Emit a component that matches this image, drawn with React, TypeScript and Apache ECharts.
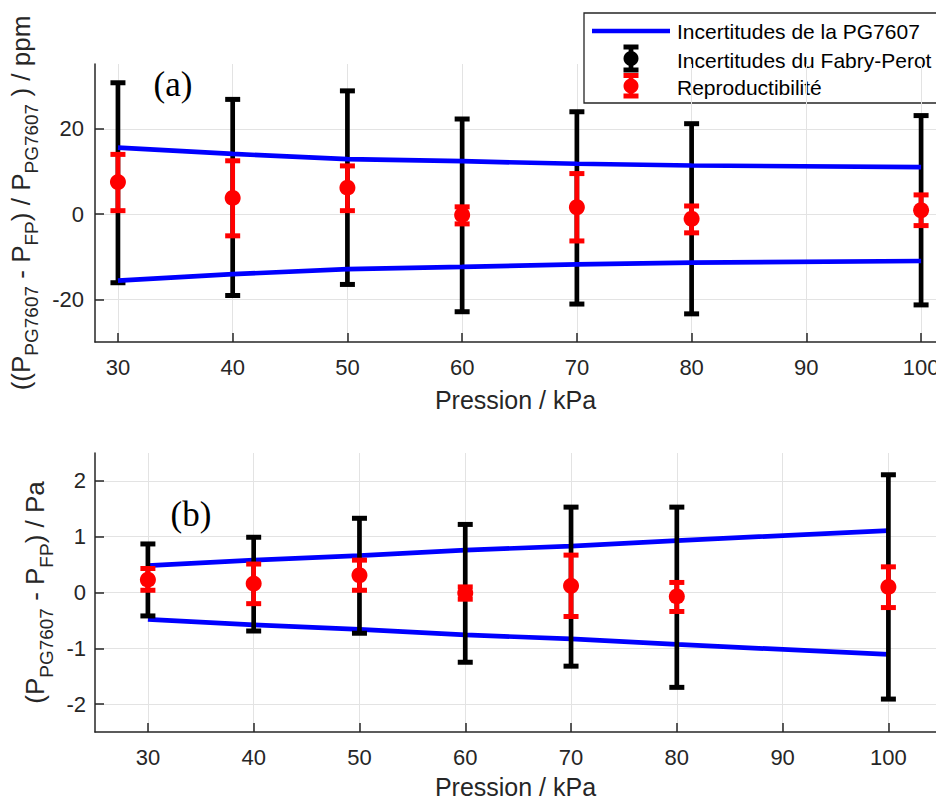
import React, { useEffect, useRef } from 'react';
import * as echarts from 'echarts';

// ---------- data ----------
const pressures = [30, 40, 50, 60, 70, 80, 100];
const xTicks = [30, 40, 50, 60, 70, 80, 90, 100];
const yTicksA = [-20, 0, 20];
const yTicksB = [-2, -1, 0, 1, 2];

// panel (a) : ppm
const pgUncPpm = [15.6, 14.1, 12.9, 12.4, 11.8, 11.4, 11.0];
const fpLowPpm = [-16.1, -19.1, -16.5, -22.9, -21.1, -23.4, -21.3];
const fpHighPpm = [30.8, 26.9, 28.9, 22.3, 24.0, 21.2, 23.1];
const meanPpm = [7.5, 3.8, 6.2, -0.2, 1.6, -1.1, 0.9];
const reproLowPpm = [0.8, -5.1, 0.8, -2.3, -6.3, -4.4, -2.7];
const reproHighPpm = [14.0, 12.5, 11.3, 1.7, 9.5, 1.9, 4.5];

// panel (b) : Pa
const pgUncPa = [0.48, 0.58, 0.66, 0.76, 0.83, 0.93, 1.11];
const fpLowPa = [-0.42, -0.69, -0.73, -1.25, -1.32, -1.70, -1.91];
const fpHighPa = [0.87, 0.99, 1.33, 1.22, 1.53, 1.53, 2.11];
const meanPa = [0.23, 0.16, 0.31, -0.01, 0.12, -0.07, 0.10];
const reproLowPa = [0.04, -0.20, 0.04, -0.12, -0.43, -0.34, -0.27];
const reproHighPa = [0.43, 0.51, 0.58, 0.10, 0.67, 0.18, 0.46];

const legendLabels = [
  'Incertitudes de la PG7607',
  'Incertitudes du Fabry-Perot',
  'Reproductibilité',
];

const FONT = 'Liberation Sans, Arial, sans-serif';
const AX = '#262626';
const BLUE = '#0000ff';
const RED = '#ff0000';
const BLACK = '#000000';

const errorBar = (color: string) => (params: any, api: any) => {
  const x = api.value(0);
  const lo = api.value(1);
  const hi = api.value(2);
  const a = api.coord([x, lo]);
  const b = api.coord([x, hi]);
  const cw = 15;
  return {
    type: 'group',
    children: [
      { type: 'line', shape: { x1: a[0], y1: a[1], x2: b[0], y2: b[1] }, style: { stroke: color, lineWidth: 4.7 } },
      { type: 'line', shape: { x1: a[0] - cw / 2, y1: a[1], x2: a[0] + cw / 2, y2: a[1] }, style: { stroke: color, lineWidth: 5 } },
      { type: 'line', shape: { x1: b[0] - cw / 2, y1: b[1], x2: b[0] + cw / 2, y2: b[1] }, style: { stroke: color, lineWidth: 5 } },
    ],
  };
};

const zip3 = (xs: number[], a: number[], b: number[]) => xs.map((x, i) => [x, a[i], b[i]]);
const zip2 = (xs: number[], a: number[]) => xs.map((x, i) => [x, a[i]]);

const richName = {
  n: { fontSize: 26, lineHeight: 30, fontFamily: FONT, color: AX },
  s: { fontSize: 19, lineHeight: 8, padding: [22, 0, 0, 0], fontFamily: FONT, color: AX },
};

const xAxisBase = (gridIndex: number, min: number, max: number, gap: number) => ({
  type: 'value',
  gridIndex,
  min,
  max,
  name: 'Pression / kPa',
  nameLocation: 'middle',
  nameGap: gap,
  nameTextStyle: { fontSize: 25, color: AX, fontFamily: FONT },
  axisLine: { show: true, onZero: false, lineStyle: { color: AX, width: 1.5 } },
  axisTick: { show: true, inside: true, length: 9, customValues: xTicks, lineStyle: { color: AX, width: 1.5 } },
  axisLabel: { customValues: xTicks, fontSize: 22, color: AX, fontFamily: FONT, margin: 14 },
  splitLine: { show: true, lineStyle: { color: '#e3e3e3', width: 1 } },
});

const yAxisBase = (gridIndex: number, min: number, max: number, ticks: number[], name: string, gap: number, margin: number) => ({
  type: 'value',
  gridIndex,
  min,
  max,
  name,
  nameLocation: 'middle',
  nameRotate: 90,
  nameGap: gap,
  nameTextStyle: { fontSize: 26, color: AX, fontFamily: FONT, rich: richName },
  axisLine: { show: true, onZero: false, lineStyle: { color: AX, width: 1.5 } },
  axisTick: { show: true, inside: true, length: 9, customValues: ticks, lineStyle: { color: AX, width: 1.5 } },
  axisLabel: { customValues: ticks, fontSize: 22, color: AX, fontFamily: FONT, margin },
  splitLine: { show: true, lineStyle: { color: '#e3e3e3', width: 1 } },
});

export default function App() {
  const ref = useRef<HTMLDivElement>(null);
  useEffect(() => {
    if (!ref.current) return;
    const chart = echarts.init(ref.current, undefined, { renderer: 'svg' });
    const legendX = 584;
    const option: any = {
      animation: false,
      backgroundColor: '#ffffff',
      grid: [
        { left: 95, top: 64, width: 841, height: 278, containLabel: false, outerBoundsMode: 'none' },
        { left: 95, top: 453, width: 841, height: 279, containLabel: false, outerBoundsMode: 'none' },
      ],
      xAxis: [xAxisBase(0, 28, 101.3, 45), xAxisBase(1, 25, 104.5, 42)],
      yAxis: [
        yAxisBase(0, -30, 35.2, yTicksA,
          '{n|((P}{s|PG7607}{n| - P}{s|FP}{n|) / P}{s|PG7607}{n| ) / ppm}', 55, 11),
        yAxisBase(1, -2.5, 2.5, yTicksB,
          '{n|(P}{s|PG7607}{n| - P}{s|FP}{n|) / Pa}', 43, 9),
      ],
      series: [
        // panel (a)
        { type: 'custom', name: legendLabels[1], xAxisIndex: 0, yAxisIndex: 0, z: 2, renderItem: errorBar(BLACK), encode: { x: 0, y: [1, 2] }, data: zip3(pressures, fpLowPpm, fpHighPpm) },
        { type: 'line', name: legendLabels[0], xAxisIndex: 0, yAxisIndex: 0, z: 3, symbol: 'none', lineStyle: { color: BLUE, width: 4.7 }, data: zip2(pressures, pgUncPpm) },
        { type: 'line', name: legendLabels[0], xAxisIndex: 0, yAxisIndex: 0, z: 3, symbol: 'none', lineStyle: { color: BLUE, width: 4.7 }, data: zip2(pressures, pgUncPpm.map((v) => -v)) },
        { type: 'custom', name: legendLabels[2], xAxisIndex: 0, yAxisIndex: 0, z: 4, renderItem: errorBar(RED), encode: { x: 0, y: [1, 2] }, data: zip3(pressures, reproLowPpm, reproHighPpm) },
        { type: 'scatter', name: legendLabels[2], xAxisIndex: 0, yAxisIndex: 0, z: 5, symbol: 'circle', symbolSize: 16, itemStyle: { color: RED, opacity: 1 }, data: zip2(pressures, meanPpm) },
        // panel (b)
        { type: 'line', name: legendLabels[0], xAxisIndex: 1, yAxisIndex: 1, z: 2, symbol: 'none', lineStyle: { color: BLUE, width: 4.7 }, data: zip2(pressures, pgUncPa) },
        { type: 'line', name: legendLabels[0], xAxisIndex: 1, yAxisIndex: 1, z: 2, symbol: 'none', lineStyle: { color: BLUE, width: 4.7 }, data: zip2(pressures, pgUncPa.map((v) => -v)) },
        { type: 'custom', name: legendLabels[1], xAxisIndex: 1, yAxisIndex: 1, z: 3, renderItem: errorBar(BLACK), encode: { x: 0, y: [1, 2] }, data: zip3(pressures, fpLowPa, fpHighPa) },
        { type: 'custom', name: legendLabels[2], xAxisIndex: 1, yAxisIndex: 1, z: 4, renderItem: errorBar(RED), encode: { x: 0, y: [1, 2] }, data: zip3(pressures, reproLowPa, reproHighPa) },
        { type: 'scatter', name: legendLabels[2], xAxisIndex: 1, yAxisIndex: 1, z: 5, symbol: 'circle', symbolSize: 16, itemStyle: { color: RED, opacity: 1 }, data: zip2(pressures, meanPa) },
      ],
      graphic: [
        { type: 'text', x: 173, y: 84, z: 10, style: { text: '(a)', font: '35px "Liberation Serif", "Times New Roman", serif', fill: BLACK, align: 'center', verticalAlign: 'middle' } },
        { type: 'text', x: 191, y: 514, z: 10, style: { text: '(b)', font: '35px "Liberation Serif", "Times New Roman", serif', fill: BLACK, align: 'center', verticalAlign: 'middle' } },
        {
          type: 'group', z: 20,
          children: [
            { type: 'rect', shape: { x: legendX, y: 13, width: 400, height: 90 }, style: { fill: '#ffffff', stroke: AX, lineWidth: 1.3 } },
            { type: 'line', shape: { x1: 592, y1: 31, x2: 670, y2: 31 }, style: { stroke: BLUE, lineWidth: 4.7 } },
            // black icon
            { type: 'line', shape: { x1: 631, y1: 47, x2: 631, y2: 70 }, style: { stroke: BLACK, lineWidth: 4.7 } },
            { type: 'line', shape: { x1: 623.5, y1: 47, x2: 638.5, y2: 47 }, style: { stroke: BLACK, lineWidth: 5 } },
            { type: 'line', shape: { x1: 623.5, y1: 70, x2: 638.5, y2: 70 }, style: { stroke: BLACK, lineWidth: 5 } },
            { type: 'circle', shape: { cx: 631, cy: 58.5, r: 7.5 }, style: { fill: BLACK } },
            // red icon
            { type: 'line', shape: { x1: 631, y1: 75.5, x2: 631, y2: 96 }, style: { stroke: RED, lineWidth: 4.7 } },
            { type: 'line', shape: { x1: 623.5, y1: 75.5, x2: 638.5, y2: 75.5 }, style: { stroke: RED, lineWidth: 5 } },
            { type: 'line', shape: { x1: 623.5, y1: 96, x2: 638.5, y2: 96 }, style: { stroke: RED, lineWidth: 5 } },
            { type: 'circle', shape: { cx: 631, cy: 86, r: 7.5 }, style: { fill: RED } },
            { type: 'text', x: 677, y: 31.5, style: { text: legendLabels[0], font: '21px ' + FONT, fill: BLACK, verticalAlign: 'middle' } },
            { type: 'text', x: 677, y: 60, style: { text: legendLabels[1], font: '21px ' + FONT, fill: BLACK, verticalAlign: 'middle' } },
            { type: 'text', x: 677, y: 87.5, style: { text: legendLabels[2], font: '21px ' + FONT, fill: BLACK, verticalAlign: 'middle' } },
          ],
        },
      ],
    };
    chart.setOption(option);
    return () => chart.dispose();
  }, []);
  return <div ref={ref} style={{ position: 'absolute', left: 0, top: 0, width: 936, height: 802, background: '#fff' }} />;
}
